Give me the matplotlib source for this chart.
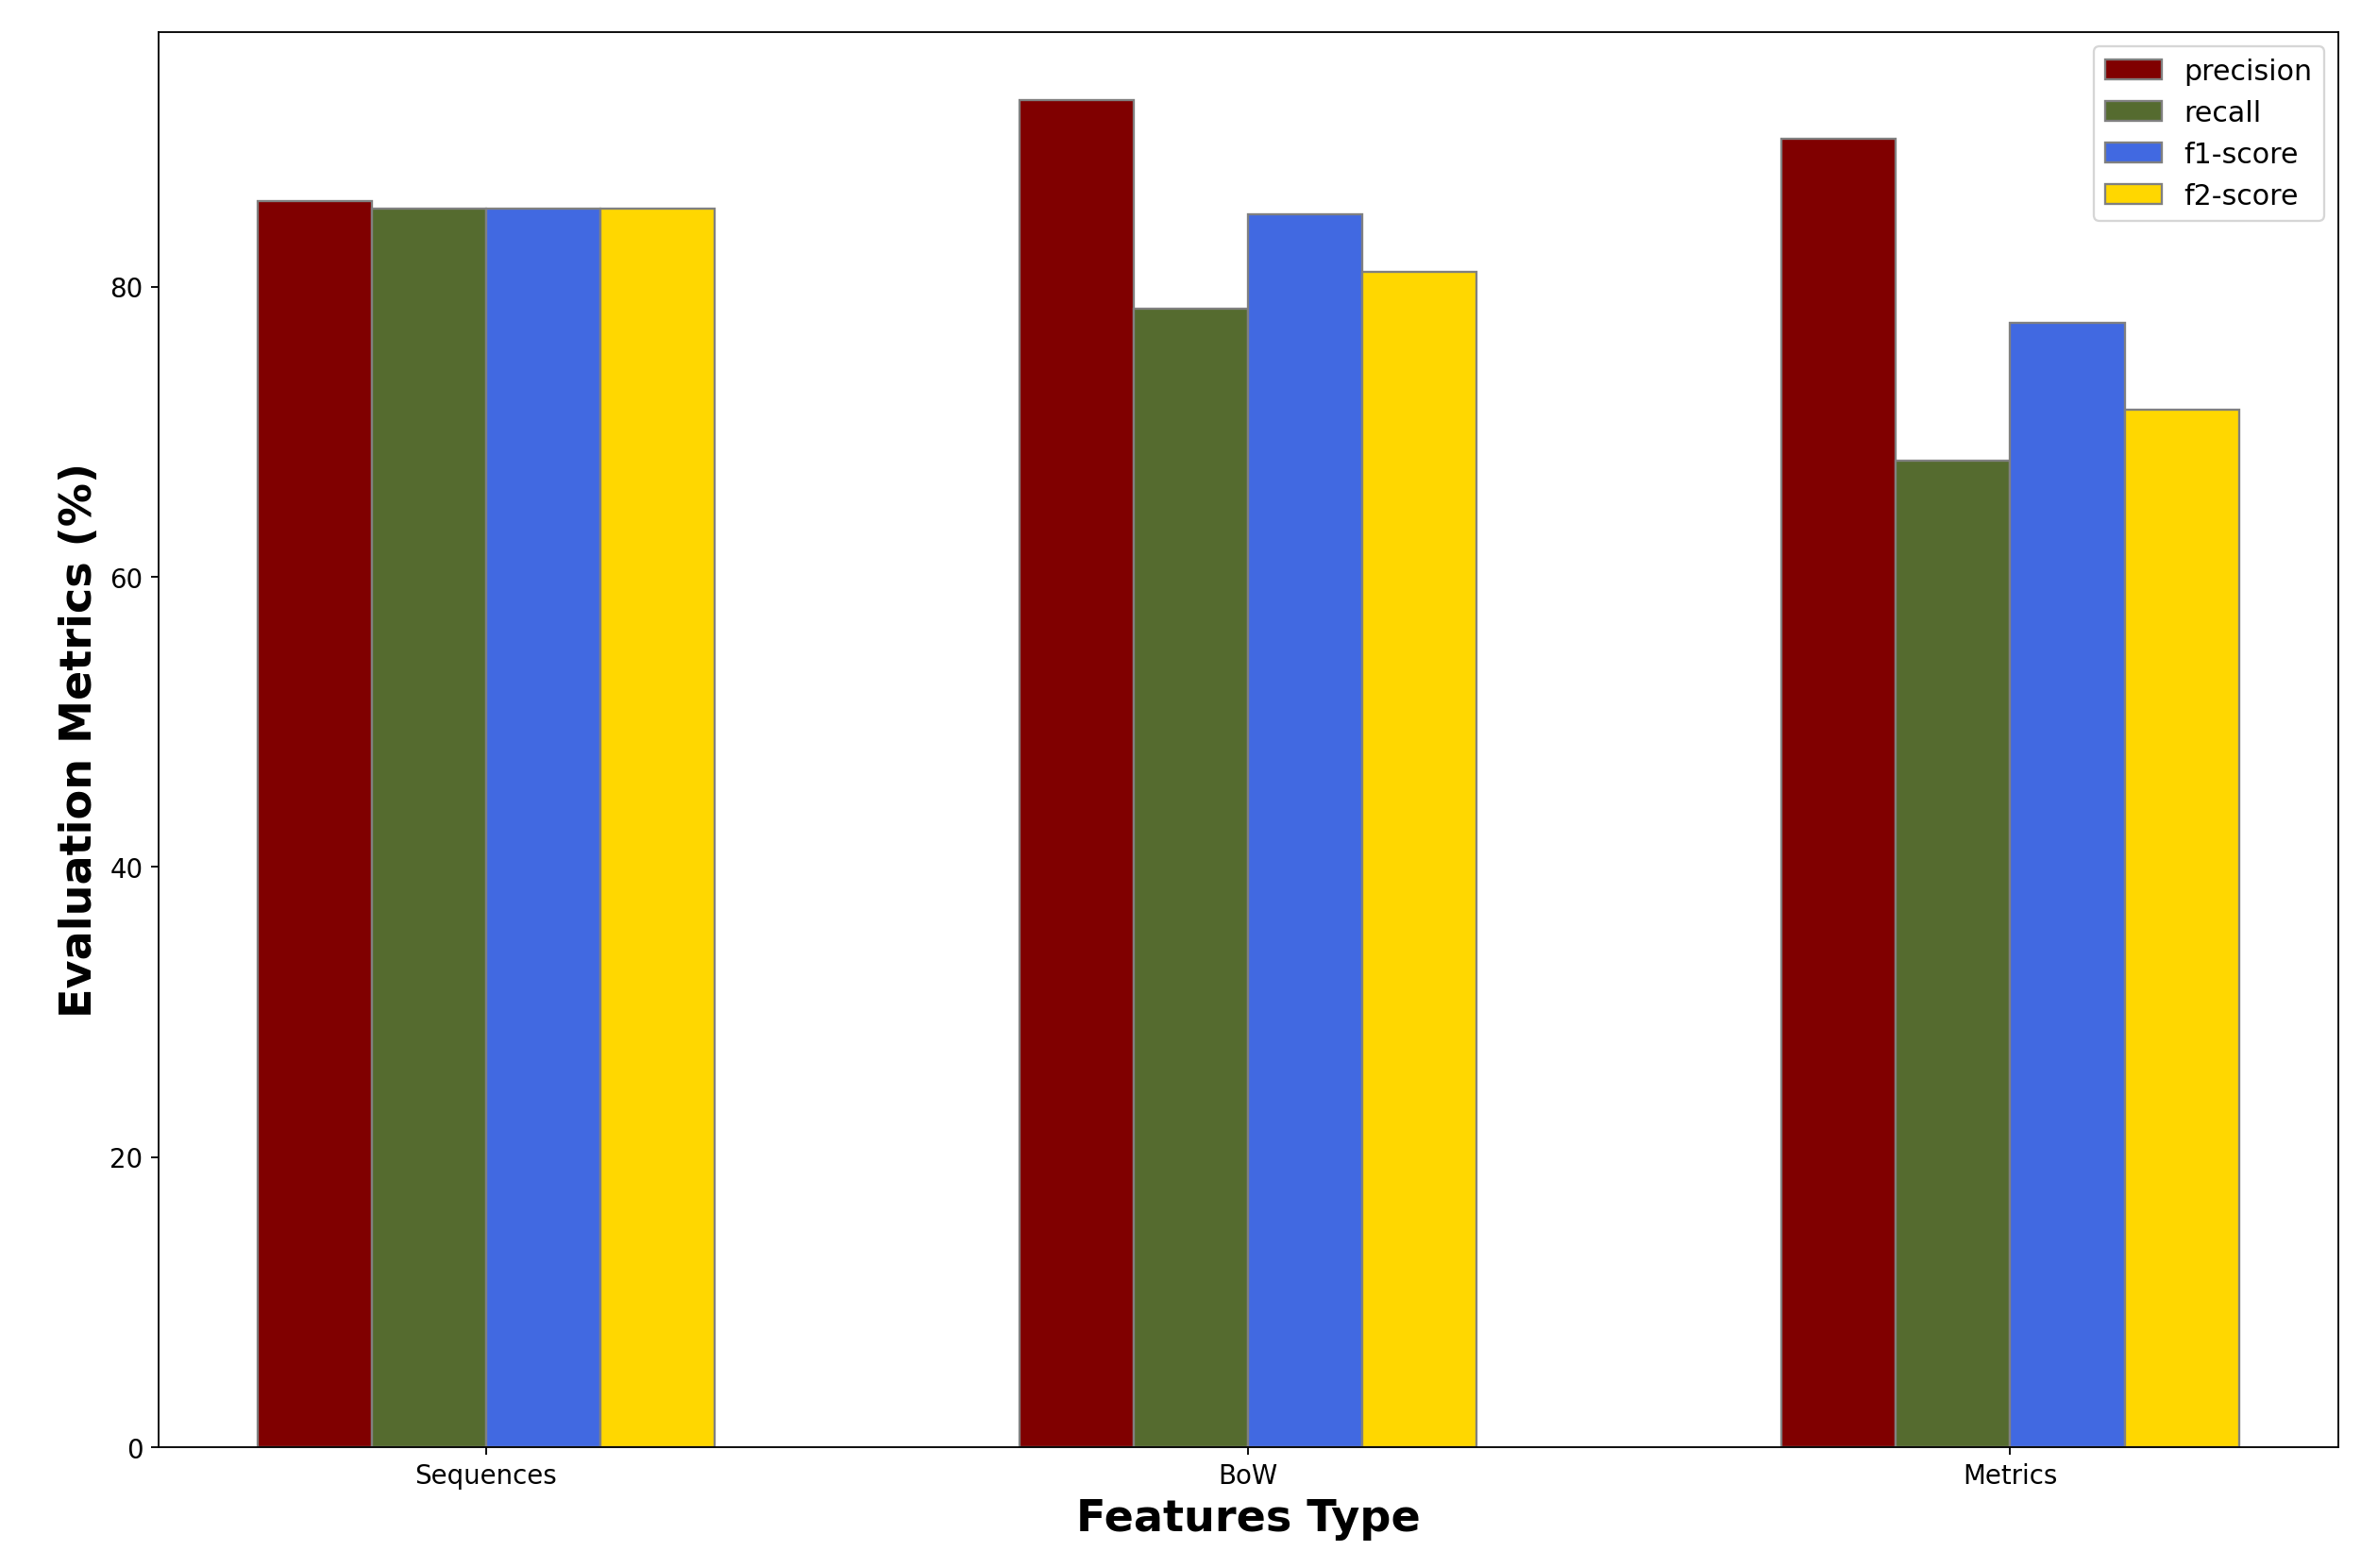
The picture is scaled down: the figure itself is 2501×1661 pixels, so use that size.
#!/usr/bin/env python3

from matplotlib import pyplot as plt
import numpy as np

features = ["Sequences", "BoW", "Metrics"]
precision = [85.9, 92.9, 90.2]
recall = [85.4, 78.5, 68.0]
f1_score = [85.4, 85.0, 77.5]
f2_score = [85.4, 81.0, 71.5]


def main():
    bar_width = 0.15
    r1 = np.arange(len(features))
    series = [
        (precision, "maroon", "precision"),
        (recall, "darkolivegreen", "recall"),
        (f1_score, "royalblue", "f1-score"),
        (f2_score, "gold", "f2-score"),
    ]

    fig = plt.figure(figsize=(15.07, 10.01), dpi=166)
    ax = fig.add_axes([0.067, 0.077, 0.923, 0.902])

    for i, (values, color, label) in enumerate(series):
        ax.bar(r1 + i * bar_width, values, width=bar_width, color=color,
               edgecolor="grey", label=label, align="edge")

    ax.set_xticks(r1 + 2 * bar_width)
    ax.set_xticklabels(features)
    ax.tick_params(labelsize=12)
    ax.set_xlabel("Features Type", fontsize=20, fontweight="bold")
    ax.set_ylabel("Evaluation Metrics (%)", fontsize=20, fontweight="bold")
    ax.legend(fontsize=13)

    fig.savefig("out.png")


if __name__ == "__main__":
    main()
